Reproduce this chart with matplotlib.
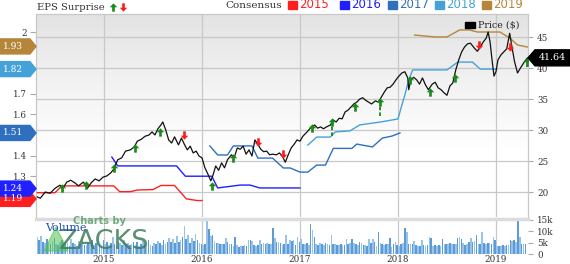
import numpy as np
import matplotlib
matplotlib.use("Agg")
import matplotlib.pyplot as plt
from matplotlib.path import Path
from matplotlib.patches import Polygon, Rectangle
from matplotlib.lines import Line2D
from matplotlib.colors import LinearSegmentedColormap
import matplotlib.transforms as mtransforms

# Kursverlauf (Dezimaljahr, Preis in $)
price_t = [2014.32, 2014.35, 2014.40, 2014.45, 2014.50, 2014.55, 2014.58, 2014.62, 2014.66, 2014.70,
           2014.74, 2014.79, 2014.83, 2014.87, 2014.91, 2014.95, 2014.99, 2015.03, 2015.07, 2015.10,
           2015.14, 2015.18, 2015.22, 2015.27, 2015.31, 2015.34, 2015.38, 2015.42, 2015.46, 2015.49,
           2015.52, 2015.55, 2015.58, 2015.60, 2015.63, 2015.66, 2015.69, 2015.72, 2015.76, 2015.79,
           2015.82, 2015.85, 2015.88, 2015.91, 2015.94, 2015.97, 2016.00, 2016.03, 2016.06, 2016.09,
           2016.11, 2016.14, 2016.17, 2016.20, 2016.23, 2016.26, 2016.30, 2016.33, 2016.36, 2016.39,
           2016.42, 2016.45, 2016.48, 2016.51, 2016.54, 2016.57, 2016.60, 2016.63, 2016.66, 2016.69,
           2016.72, 2016.76, 2016.79, 2016.82, 2016.85, 2016.88, 2016.91, 2016.94, 2016.97, 2017.00,
           2017.03, 2017.06, 2017.09, 2017.12, 2017.15, 2017.18, 2017.21, 2017.24, 2017.27, 2017.31,
           2017.34, 2017.37, 2017.40, 2017.43, 2017.46, 2017.49, 2017.52, 2017.55, 2017.58, 2017.61,
           2017.64, 2017.67, 2017.70, 2017.73, 2017.77, 2017.80, 2017.83, 2017.86, 2017.89, 2017.92,
           2017.95, 2017.98, 2018.01, 2018.04, 2018.07, 2018.10, 2018.11, 2018.13, 2018.16, 2018.19,
           2018.22, 2018.25, 2018.28, 2018.31, 2018.35, 2018.38, 2018.41, 2018.44, 2018.47, 2018.50,
           2018.53, 2018.56, 2018.59, 2018.62, 2018.65, 2018.68, 2018.71, 2018.74, 2018.78, 2018.81,
           2018.84, 2018.87, 2018.90, 2018.92, 2018.94, 2018.96, 2018.98, 2019.00, 2019.02, 2019.05,
           2019.08, 2019.11, 2019.14, 2019.16, 2019.19, 2019.22, 2019.25, 2019.29, 2019.32]
price_v = [19.2, 19.0, 20.0, 19.8, 20.6, 21.1, 20.6, 21.6, 21.9, 21.5,
           21.0, 21.6, 20.6, 21.5, 22.1, 21.8, 22.4, 22.6, 23.1, 23.7,
           25.2, 25.5, 26.6, 26.8, 27.3, 28.2, 28.5, 29.0, 29.2, 29.7,
           29.2, 30.2, 30.8, 31.3, 30.0, 28.4, 27.9, 28.9, 27.6, 28.7,
           27.7, 26.8, 27.4, 26.3, 26.6, 25.8, 25.5, 23.9, 22.9, 21.8,
           22.6, 24.2, 23.5, 24.7, 23.9, 25.2, 26.0, 25.6, 27.1, 26.9,
           27.4, 26.1, 26.8, 25.8, 28.4, 27.7, 26.9, 26.5, 26.6, 26.0,
           26.1, 26.0, 26.3, 25.8, 24.8, 26.0, 27.1, 27.7, 28.4, 28.2,
           29.0, 29.5, 30.0, 30.6, 30.8, 30.3, 30.5, 30.2, 30.5, 30.8,
           31.6, 31.3, 31.9, 31.8, 32.9, 33.2, 33.7, 34.2, 34.5, 35.0,
           35.2, 34.8, 34.5, 34.2, 34.7, 34.5, 35.3, 36.1, 36.8, 36.9,
           37.4, 38.1, 38.7, 39.2, 39.4, 38.4, 36.5, 38.1, 38.5, 38.1,
           37.4, 38.4, 37.3, 36.5, 37.4, 37.7, 36.8, 36.5, 36.0, 35.6,
           37.1, 37.6, 39.7, 41.3, 42.6, 43.4, 43.9, 44.0, 43.2, 42.7,
           43.4, 44.2, 44.8, 45.8, 44.2, 41.3, 38.7, 39.4, 41.3, 42.1,
           42.6, 43.1, 45.6, 43.7, 41.0, 39.2, 40.0, 41.0, 41.6]
last_price = 41.64

# Konsensus-Schaetzungen je Geschaeftsjahr (Dezimaljahr, EPS)
c2015_t = [2014.32, 2014.50, 2014.57, 2015.10, 2015.16, 2015.27, 2015.34, 2015.50, 2015.58, 2015.72, 2015.84, 2015.95, 2016.00]
c2015_v = [1.22, 1.22, 1.253, 1.253, 1.225, 1.225, 1.233, 1.235, 1.255, 1.255, 1.19, 1.182, 1.182]
c2016_t = [2015.08, 2015.14, 2015.74, 2015.83, 2016.10, 2016.16, 2016.39, 2016.49, 2016.59, 2017.00]
c2016_v = [1.393, 1.35, 1.35, 1.30, 1.30, 1.243, 1.257, 1.257, 1.243, 1.243]
c2017_t = [2016.08, 2016.16, 2016.26, 2016.32, 2016.51, 2016.57, 2016.72, 2016.83, 2016.90, 2017.00,
           2017.08, 2017.17, 2017.26, 2017.34, 2017.53, 2017.58, 2017.74, 2017.84, 2017.94, 2018.02]
c2017_v = [1.447, 1.403, 1.403, 1.447, 1.447, 1.388, 1.388, 1.34, 1.34, 1.32,
           1.32, 1.354, 1.354, 1.435, 1.435, 1.456, 1.442, 1.485, 1.495, 1.51]
c2018_t = [2017.08, 2017.17, 2017.31, 2017.36, 2017.51, 2017.61, 2017.82, 2018.00, 2018.04, 2018.07,
           2018.11, 2018.15, 2018.50, 2018.61, 2018.68, 2018.76, 2018.84, 2019.01]
c2018_v = [1.451, 1.49, 1.49, 1.515, 1.52, 1.549, 1.563, 1.578, 1.646, 1.694,
           1.767, 1.816, 1.816, 1.854, 1.854, 1.854, 1.82, 1.82]
c2019_t = [2018.17, 2018.38, 2018.50, 2018.63, 2018.73, 2018.81, 2019.04, 2019.14, 2019.22, 2019.32]
c2019_v = [1.985, 1.976, 1.976, 2.01, 2.01, 2.0, 2.0, 1.971, 1.937, 1.927]

cons_years = ["2015", "2016", "2017", "2018", "2019"]
cons_tags = [1.19, 1.24, 1.51, 1.82, 1.93]
cons_colors = ["#ff1f1f", "#1f1fff", "#2f6fbf", "#45a2d8", "#b5853a"]

# EPS-Ueberraschungen (auf dem Kurs)
beat_t = [2014.57, 2014.82, 2015.10, 2015.32, 2015.57, 2016.10, 2016.32, 2017.12,
          2017.33, 2017.56, 2017.82, 2018.12, 2018.33, 2018.58, 2019.32]
beat_v = [20.6, 21.1, 23.9, 27.1, 29.7, 21.0, 25.5, 30.3,
          31.3, 33.7, 34.5, 38.1, 36.1, 38.4, 41.0]
beat_stem = [0, 0, 0, 0, 0, 0, 0, 0, 2.3, 0, 2.3, 0, 0, 0, 0.9]
miss_t = [2015.82, 2016.57, 2016.83, 2018.83, 2019.14]
miss_v = [29.2, 28.1, 26.1, 43.7, 43.4]

# Wochenvolumen in Tausend
vol_start = 2014.32
vol_k = [7.5, 6.0, 8.0, 5.5, 4.8, 6.5, 5.0, 4.2, 5.8, 7.0, 4.5, 3.8, 5.2, 6.1, 4.0, 5.5, 4.8, 3.6,
         6.8, 5.0, 4.2, 3.5, 5.8, 4.6, 7.2, 4.1, 3.9, 5.0, 4.4, 6.3, 3.8, 4.9, 5.6, 4.0, 3.7, 6.0,
         4.5, 5.2, 3.9, 4.8, 7.5, 4.2, 3.6, 5.1, 4.7, 3.9, 6.2, 4.3, 5.0, 3.8, 4.6, 5.5,
         4.0, 5.2, 3.6, 4.4, 5.8, 3.9, 4.7, 6.3, 4.1, 3.5, 5.0, 4.2, 5.6, 4.8, 3.8, 6.0, 4.5, 5.3,
         7.2, 5.1, 6.8, 4.9, 8.0, 5.5, 6.2, 7.5, 12.5, 6.4, 8.2, 5.0, 7.0, 5.8, 9.0, 6.1, 4.8, 4.2,
         4.0, 4.3, 14.7, 11.0, 8.0, 8.2, 5.6, 4.8, 5.0, 4.6, 4.2, 4.5, 7.0, 5.5, 4.4, 4.6,
         3.7, 7.3, 4.0, 3.2, 3.6, 3.4, 3.9, 3.5, 6.0, 6.2, 5.8, 3.8, 3.5, 4.0, 6.0, 4.5, 4.8, 4.2,
         5.0, 4.3, 4.6, 11.5, 7.0, 5.2, 5.5, 4.8, 4.1, 4.4, 8.5, 4.5, 6.0, 5.8, 6.2, 4.0, 7.3, 5.5,
         6.5, 4.2, 4.5, 4.8, 4.0, 13.2, 10.5, 7.6, 4.5, 4.0, 4.8, 4.2, 3.8, 5.0, 4.4, 4.1,
         8.5, 4.5, 4.2, 3.8, 4.0, 4.4, 3.9, 4.1, 6.6, 4.3, 5.0, 6.6, 4.8, 4.5, 3.9, 5.5, 4.7, 3.9,
         4.0, 3.7, 6.6, 4.8, 6.6, 5.2, 3.6, 9.5, 5.0, 4.5, 3.8, 4.4, 4.2, 7.0, 3.0, 4.6, 5.5, 4.0,
         3.7, 4.2, 5.0, 11.5, 9.5, 4.6, 4.4, 4.5, 5.8, 3.8, 3.6, 3.7, 6.0, 3.9, 3.5, 4.1,
         7.5, 7.0, 3.6, 3.8, 3.4, 4.0, 3.7, 6.6, 4.3, 4.6, 4.4, 4.8, 4.2, 4.6, 4.4, 7.0, 7.3, 6.5,
         5.0, 4.0, 4.4, 5.5, 7.0, 5.2, 5.8, 8.5, 4.5, 4.2, 9.5, 5.0, 4.5, 4.8, 5.0, 4.3, 7.6, 6.0,
         3.7, 3.5, 3.6, 3.8, 3.7, 3.9, 4.0, 6.0, 5.8, 6.0, 5.5, 14.4, 7.3, 4.5, 4.6, 4.5]

years = [2015, 2016, 2017, 2018, 2019]
price_ticks = [20, 25, 30, 35, 40, 45]
eps_ticks = [1.3, 1.4, 1.6, 1.7, 2.0]   # die uebrigen liegen unter den Wert-Marken
vol_ticks = [0, 5, 10, 15]
vol_labels = ["0", "5k", "10k", "15k"]

# EPS-Achse linear auf Preisachse abbilden
EPS_SCALE = 206 / 6.2
def eps_to_price(e):
    return 45.806 + (np.asarray(e) - 2.0) * EPS_SCALE
def price_to_eps(p):
    return 2.0 + (np.asarray(p) - 45.806) / EPS_SCALE

W, H = 570, 264
def fx(px):
    return px / W
def fy(py):
    return 1 - py / H

SERIF = "DejaVu Serif"
TXT = "#333333"
GRID = "#c8c8c8"
GREEN = "#178a17"
RED = "#ff1a1a"

up_path = Path([(0, 1), (-0.9, 0.05), (-0.32, 0.05), (-0.32, -1), (0.32, -1), (0.32, 0.05), (0.9, 0.05), (0, 1)])
down_path = Path([(0, -1), (-0.9, -0.05), (-0.32, -0.05), (-0.32, 1), (0.32, 1), (0.32, -0.05), (0.9, -0.05), (0, -1)])

fig = plt.figure(figsize=(W / 100, H / 100), dpi=100)
fig.patch.set_facecolor("white")

ax = fig.add_axes([fx(36), fy(217), fx(528) - fx(36), fy(14) - fy(217)])
axv = fig.add_axes([fx(36), fy(254), fx(528) - fx(36), fy(219) - fy(254)])

xmin, xmax = 2014.306, 2019.327

# Hintergrundverlauf
grad = np.linspace(0, 1, 256).reshape(-1, 1)
cmap = LinearSegmentedColormap.from_list("bg", ["#e3e3e3", "#f2f2f2", "#ffffff", "#ffffff"])
ax.imshow(grad, cmap=cmap, extent=[0, 1, 0, 1], transform=ax.transAxes, aspect="auto", zorder=-1)

# Konsensuslinien
cons_t = [c2015_t, c2016_t, c2017_t, c2018_t, c2019_t]
cons_v = [c2015_v, c2016_v, c2017_v, c2018_v, c2019_v]
for t, v, c in zip(cons_t, cons_v, cons_colors):
    ax.plot(t, eps_to_price(v), color=c, lw=1.0, zorder=3)

ax.plot(price_t, price_v, color="#111111", lw=0.9, zorder=4)

# Pfeile fuer Ueberraschungen
for t, v, s in zip(beat_t, beat_v, beat_stem):
    if s > 0:
        ax.plot([t, t], [v - s, v - 0.6], color=GREEN, lw=1.3, ls=(0, (2, 1.2)), zorder=5)
ax.plot(beat_t, beat_v, ls="none", marker=up_path, ms=6, color=GREEN, mew=0, zorder=6)
ax.plot(miss_t, miss_v, ls="none", marker=down_path, ms=6, color=RED, mew=0, zorder=6)

ax.set_xlim(xmin, xmax)
ax.set_ylim(15.97, 48.71)
ax.set_xticks(years)
ax.set_yticks(price_ticks)
ax.yaxis.tick_right()
ax.tick_params(axis="x", bottom=False, labelbottom=False)
ax.tick_params(axis="y", right=True, left=False, length=3.6, width=0.8, color="#aaaaaa",
               labelsize=6.3, labelcolor=TXT, pad=3)
for lab in ax.get_yticklabels():
    lab.set_family(SERIF)
ax.grid(True, color=GRID, lw=0.9)
ax.set_axisbelow(True)
for name, sp in ax.spines.items():
    sp.set_color(GRID)
    sp.set_linewidth(0.9)
ax.spines["bottom"].set_visible(False)

# linke EPS-Achse
sec = ax.secondary_yaxis("left", functions=(price_to_eps, eps_to_price))
sec.set_yticks(eps_ticks)
sec.set_yticklabels([("%.1f" % v).rstrip("0").rstrip(".") for v in eps_ticks])
sec.tick_params(length=4.3, width=0.8, color="#aaaaaa", labelsize=6.3, labelcolor=TXT, pad=2)
for lab in sec.get_yticklabels():
    lab.set_family(SERIF)
sec.spines["left"].set_visible(False)

# "Price ($)" Legende
fig.add_artist(Rectangle((fx(465), fy(28)), fx(10), fy(22) - fy(28), transform=fig.transFigure,
                         color="black", zorder=7))
fig.text(fx(478), fy(25), "Price ($)", fontsize=6.8, family=SERIF, color="#222222", va="center")

# Volumen
vol_t = vol_start + np.arange(len(vol_k)) / 52.0
bar_cols = ["#98c4ec", "#5d9bd6"] * (len(vol_k) // 2 + 1)
axv.bar(vol_t, vol_k, width=0.85 / 52, color=bar_cols[:len(vol_k)], zorder=2, linewidth=0)
axv.set_xlim(xmin, xmax)
axv.set_ylim(0, 15.4)
axv.set_xticks(years)
axv.set_xticklabels([str(y) for y in years])
axv.set_yticks(vol_ticks)
axv.set_yticklabels(vol_labels)
axv.yaxis.tick_right()
axv.tick_params(axis="x", length=0, labelsize=6.3, labelcolor=TXT, pad=1)
axv.tick_params(axis="y", length=3.6, width=0.8, color="#aaaaaa", labelsize=6.3, labelcolor=TXT, pad=3)
for lab in axv.get_xticklabels() + axv.get_yticklabels():
    lab.set_family(SERIF)
axv.grid(True, axis="x", color=GRID, lw=0.9)
axv.set_axisbelow(True)
for name, sp in axv.spines.items():
    sp.set_visible(False)
axv.spines["top"].set_visible(True)
axv.spines["top"].set_color("#dcdcdc")
axv.spines["top"].set_linewidth(2.5)

# Wasserzeichen
fig.add_artist(Polygon([(fx(44), fy(251)), (fx(68), fy(251)), (fx(56), fy(227))], closed=True,
                       transform=fig.transFigure, color="#55c255", alpha=0.55, zorder=8))
fig.text(fx(73), fy(221), "Charts by", fontsize=7, fontweight="bold", color="#5a9e6c", alpha=0.85,
         va="center", zorder=8)
fig.text(fx(59), fy(242), "ZACKS", fontsize=19.5, color="#3f7d5a", alpha=0.85, va="center", zorder=8)
fig.text(fx(45), fy(228), "Volume", fontsize=8, family=SERIF, color="#2050b0", va="center", zorder=9)

# Kopfzeile
fig.text(fx(37), fy(7), "EPS Surprise", fontsize=7.2, family=SERIF, color=TXT, va="center")
fig.add_artist(Line2D([fx(113)], [fy(6.5)], marker=up_path, ms=6, color=GREEN, mew=0,
                      transform=fig.transFigure))
fig.add_artist(Line2D([fx(123)], [fy(6.5)], marker=down_path, ms=6, color=RED, mew=0,
                      transform=fig.transFigure))
fig.text(fx(282), fy(5), "Consensus", fontsize=7.5, family=SERIF, color=TXT, va="center", ha="right")
leg_x = [288, 340, 388, 435, 482]
for x0, yr, c in zip(leg_x, cons_years, cons_colors):
    fig.add_artist(Rectangle((fx(x0), fy(9)), fx(9), fy(1) - fy(9), transform=fig.transFigure, color=c))
    fig.text(fx(x0 + 11), fy(5), yr, fontsize=8.5, color=c, va="center")

# Wert-Marken links
trans = mtransforms.blended_transform_factory(fig.transFigure, ax.transData)
half = 7.5 / 6.2
for val, c in zip(cons_tags, cons_colors):
    yc = float(eps_to_price(val))
    fig.add_artist(Polygon([(0, yc - half), (fx(30), yc - half), (fx(36), yc), (fx(30), yc + half),
                            (0, yc + half)], closed=True, transform=trans, color=c, zorder=10))
    fig.text(fx(3), yc, "%.2f" % val, transform=trans, fontsize=6.5, family=SERIF, color="white",
             va="center", zorder=11)

# Kursmarke rechts
half_p = 8 / 6.2
fig.add_artist(Polygon([(fx(528), last_price), (fx(535), last_price + half_p), (1, last_price + half_p),
                        (1, last_price - half_p), (fx(535), last_price - half_p)], closed=True,
                       transform=trans, color="black", zorder=10))
fig.text(fx(539), last_price, "%.2f" % last_price, transform=trans, fontsize=6.8, family=SERIF,
         color="white", va="center", zorder=11)

fig.savefig("out.png", dpi=100)
